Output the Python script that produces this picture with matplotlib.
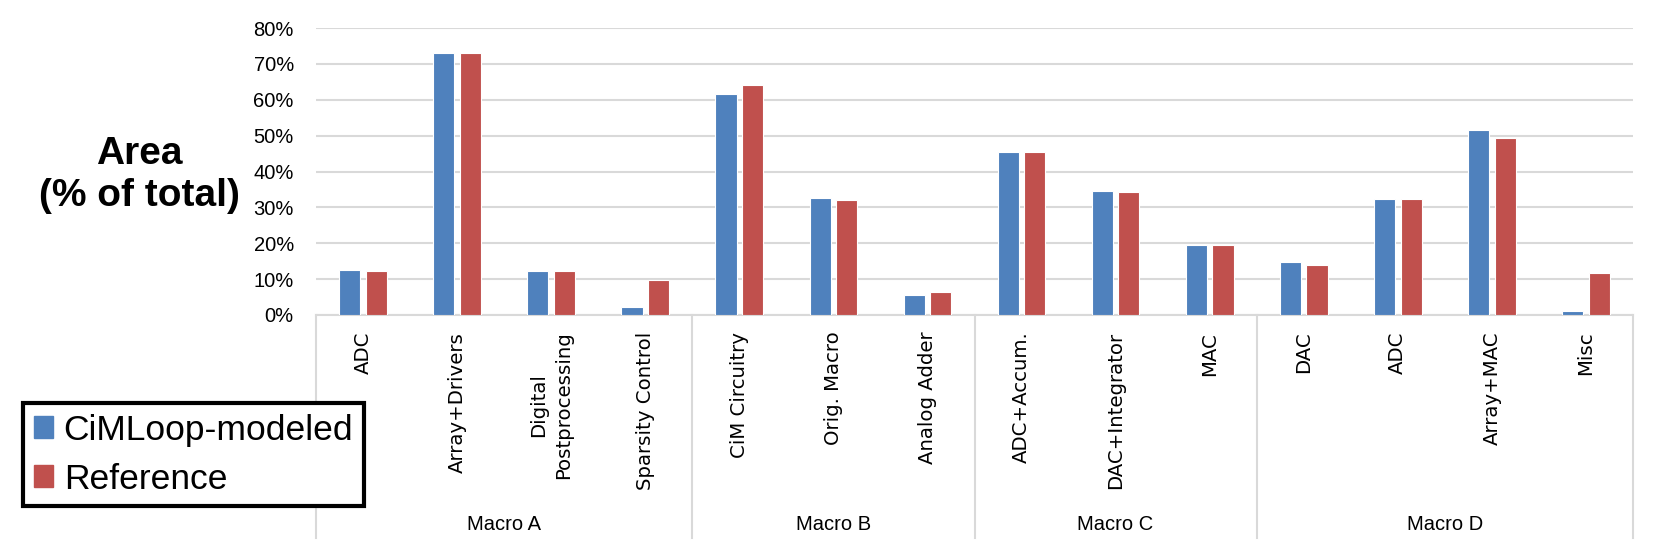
import numpy as np
import matplotlib
matplotlib.use("Agg")
import matplotlib.pyplot as plt
from matplotlib.patches import Patch
from matplotlib.ticker import PercentFormatter

components = ["ADC", "Array+Drivers", "Digital\nPostprocessing", "Sparsity Control",
              "CiM Circuitry", "Orig. Macro", "Analog Adder",
              "ADC+Accum.", "DAC+Integrator", "MAC",
              "DAC", "ADC", "Array+MAC", "Misc"]
macros = ["Macro A", "Macro B", "Macro C", "Macro D"]
macro_sizes = [4, 3, 3, 4]
cimloop = [12.5, 72.9, 12.3, 2.1, 61.5, 32.5, 5.7, 45.5, 34.6, 19.5, 14.8, 32.2, 51.7, 1.0]
reference = [12.3, 72.9, 12.3, 9.8, 64.0, 32.0, 6.3, 45.5, 34.2, 19.5, 13.9, 32.2, 49.4, 11.8]

blue = "#4F81BD"
red = "#C0504D"
grid_gray = "#D9D9D9"
label_font = ["Liberation Sans", "DejaVu Sans"]

fig = plt.figure(figsize=(16.61, 5.51), dpi=100)
ax = fig.add_axes([316 / 1661, 1 - 315 / 551, (1633 - 316) / 1661, (315 - 28) / 551])

x = np.arange(len(components))
w = 0.225
ax.bar(x - 0.141, cimloop, w, color=blue, edgecolor="white", linewidth=0.8, zorder=3)
ax.bar(x + 0.141, reference, w, color=red, edgecolor="white", linewidth=0.8, zorder=3)

ax.set_xlim(-0.5, len(components) - 0.5)
ax.set_ylim(0, 80)
ax.set_yticks(np.arange(0, 81, 10))
ax.yaxis.set_major_formatter(PercentFormatter(decimals=0))
ax.grid(axis="y", color=grid_gray, linewidth=1.5, zorder=0)
for s in ["top", "left", "right"]:
    ax.spines[s].set_visible(False)
ax.spines["bottom"].set_color(grid_gray)
ax.spines["bottom"].set_linewidth(1.5)
ax.tick_params(axis="y", length=0, pad=16, labelsize=14.5)
for t in ax.get_yticklabels():
    t.set_family(label_font)

ax.set_xticks(x)
ax.set_xticklabels(components, rotation=90, fontsize=14.2, linespacing=1.45,
                   ha="center", va="top", multialignment="center")
ax.tick_params(axis="x", length=0, pad=12)

# group separators below the axis
trans = ax.get_xaxis_transform()
bottom = -(538 - 315) / (315 - 28)
bounds = np.concatenate([[-0.5], np.cumsum(macro_sizes) - 0.5])
for b in bounds:
    ax.plot([b, b], [0, bottom], transform=trans, color=grid_gray,
            linewidth=1.5, clip_on=False)
for i, m in enumerate(macros):
    c = (bounds[i] + bounds[i + 1]) / 2
    ax.text(c, -(524 - 315) / (315 - 28), m, transform=trans, ha="center",
            va="center", fontsize=14.5, family=label_font)

fig.text(139 / 1661, 1 - 175 / 551, "Area\n(% of total)", ha="center", va="center",
         fontsize=28, fontweight="bold", family=label_font)

handles = [Patch(facecolor=blue, edgecolor=blue), Patch(facecolor=red, edgecolor=red)]
leg = fig.legend(handles, ["CiMLoop-modeled", "Reference"], loc="upper left",
                 bbox_to_anchor=(23 / 1661, 1 - 403 / 551), borderaxespad=0,
                 prop={"family": label_font, "size": 25.5}, handlelength=0.55,
                 handleheight=0.55, handletextpad=0.3, labelspacing=0.45,
                 borderpad=0.3, fancybox=False, framealpha=1)
leg.get_frame().set_edgecolor("black")
leg.get_frame().set_linewidth(3)

fig.savefig("out.png", dpi=100)
